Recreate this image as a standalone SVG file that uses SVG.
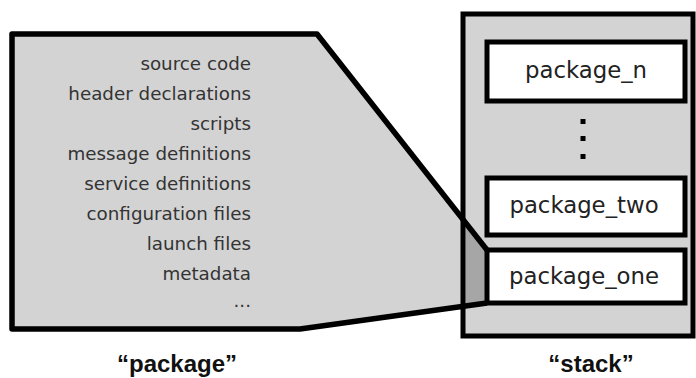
<svg xmlns="http://www.w3.org/2000/svg" width="696" height="378" viewBox="0 0 696 378">
<style>
.item{font-family:"DejaVu Sans",sans-serif;font-size:18.3px;fill:#333;text-anchor:end}
.pkg{font-family:"DejaVu Sans",sans-serif;font-size:22.8px;fill:#222;text-anchor:middle}
.cap{font-family:"Liberation Sans",Arial,sans-serif;font-size:24px;font-weight:bold;fill:#111;text-anchor:middle}
.box{fill:#fff;stroke:#000;stroke-width:5}
.edge{fill:none;stroke:#000;stroke-width:5.5;stroke-linejoin:round}
</style>
<rect width="696" height="378" fill="#fff"/>
<g id="stack-bg">
<rect x="463" y="14" width="230" height="322" fill="#d3d3d3"/>
</g>
<g id="package">
<polygon points="12,34 317,34 487,250 487,303 300,329 12,329" fill="#d3d3d3"/>
<polygon points="465.5,222.7 487,250 487,303 465.5,306" fill="#a6a6a6"/>
</g>
<g id="stack">
<rect x="463" y="14" width="230" height="322" fill="none" stroke="#000" stroke-width="5"/>
</g>
<g id="connectors">
<path class="edge" d="M487,250 L317,34 L12,34 L12,329 L300,329 L487,303"/>
</g>
<g id="package-contents">
<text class="item" x="251" y="70">source code</text>
<text class="item" x="251" y="100">header declarations</text>
<text class="item" x="251" y="130">scripts</text>
<text class="item" x="251" y="160">message definitions</text>
<text class="item" x="251" y="190">service definitions</text>
<text class="item" x="251" y="220">configuration files</text>
<text class="item" x="251" y="250">launch files</text>
<text class="item" x="251" y="280">metadata</text>
<text class="item" x="251" y="307">...</text>
</g>
<g id="package_n">
<rect class="box" x="487" y="42" width="198" height="59"/>
<text class="pkg" x="586" y="78">package_n</text>
</g>
<g id="dots">
<rect x="580.5" y="119" width="5" height="5"/>
<rect x="580.5" y="136" width="5" height="5"/>
<rect x="580.5" y="154" width="5" height="5"/>
</g>
<g id="package_two">
<rect class="box" x="487" y="178" width="198" height="57"/>
<text class="pkg" x="584" y="213">package_two</text>
</g>
<g id="package_one">
<rect class="box" x="487" y="250" width="198" height="53"/>
<text class="pkg" x="584" y="284">package_one</text>
</g>
<g id="labels">
<text class="cap" x="177" y="372">“package”</text>
<text class="cap" x="591" y="372">“stack”</text>
</g>
</svg>
